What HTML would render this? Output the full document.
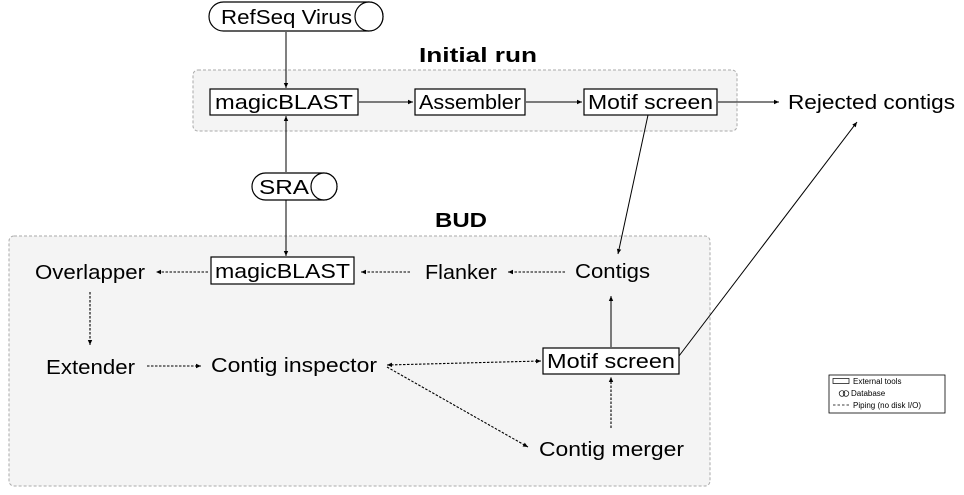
<!DOCTYPE html>
<html><head><meta charset="utf-8"><style>
html,body{margin:0;padding:0;background:#fff;}
svg{display:block;}
text{font-family:"Liberation Sans",sans-serif;fill:#000;}
</style></head><body>
<svg width="964" height="495" viewBox="0 0 964 495" xmlns="http://www.w3.org/2000/svg">
<defs>
<marker id="a" markerWidth="6" markerHeight="6" refX="5" refY="3" orient="auto" markerUnits="userSpaceOnUse"><path d="M0,0.8 L5,3 L0,5.2z" fill="#000"/></marker>
<marker id="s" markerWidth="6" markerHeight="6" refX="1" refY="3" orient="auto" markerUnits="userSpaceOnUse"><path d="M6,0.8 L1,3 L6,5.2z" fill="#000"/></marker>
</defs>
<rect x="193" y="70" width="544" height="61" rx="5" fill="#f4f4f4" stroke="#aaa" stroke-dasharray="3,2"/>
<rect x="9" y="236" width="701" height="250" rx="5" fill="#f4f4f4" stroke="#aaa" stroke-dasharray="3,2"/>
<text x="478" y="62" font-size="20" font-weight="bold" text-anchor="middle" textLength="118" lengthAdjust="spacingAndGlyphs">Initial run</text>
<text x="461" y="227" font-size="20" font-weight="bold" text-anchor="middle" textLength="52" lengthAdjust="spacingAndGlyphs">BUD</text>

<rect x="209" y="2" width="174" height="29" rx="14.5" fill="#fff" stroke="#000" stroke-width="1.2"/>
<ellipse cx="369" cy="16.5" rx="14" ry="14.5" fill="#fff" stroke="#000" stroke-width="1.2"/>
<text x="221" y="24" font-size="20" textLength="131" lengthAdjust="spacingAndGlyphs">RefSeq Virus</text>
<rect x="252" y="173" width="85" height="27" rx="13.5" fill="#fff" stroke="#000" stroke-width="1.2"/>
<ellipse cx="324" cy="186.5" rx="13" ry="13.5" fill="#fff" stroke="#000" stroke-width="1.2"/>
<text x="259" y="194" font-size="20" textLength="50" lengthAdjust="spacingAndGlyphs">SRA</text>

<rect x="210" y="89" width="148" height="26" fill="#fff" stroke="#000" stroke-width="1.2"/>
<text x="215" y="109" font-size="20" textLength="138" lengthAdjust="spacingAndGlyphs">magicBLAST</text>
<rect x="415" y="89" width="110" height="26" fill="#fff" stroke="#000" stroke-width="1.2"/>
<text x="419" y="109" font-size="20" textLength="102" lengthAdjust="spacingAndGlyphs">Assembler</text>
<rect x="584" y="89" width="133" height="26" fill="#fff" stroke="#000" stroke-width="1.2"/>
<text x="588" y="109" font-size="20" textLength="125" lengthAdjust="spacingAndGlyphs">Motif screen</text>
<text x="788" y="109" font-size="20" textLength="167" lengthAdjust="spacingAndGlyphs">Rejected contigs</text>

<g stroke="#000" stroke-width="1" fill="none">
<line x1="286" y1="32" x2="286" y2="88" marker-end="url(#a)"/>
<line x1="286" y1="172" x2="286" y2="116" marker-end="url(#a)"/>
<line x1="359" y1="102" x2="413" y2="102" marker-end="url(#a)"/>
<line x1="526" y1="102" x2="582" y2="102" marker-end="url(#a)"/>
<line x1="718" y1="102" x2="779" y2="102" marker-end="url(#a)"/>
<line x1="648" y1="115" x2="618" y2="254" marker-end="url(#a)"/>
<line x1="286" y1="200" x2="286" y2="256" marker-end="url(#a)"/>
<line x1="679" y1="356" x2="857" y2="122" marker-end="url(#a)"/>
<line x1="611" y1="347" x2="611" y2="296" marker-end="url(#a)"/>
</g>
<g stroke="#000" stroke-width="1.1" fill="none" stroke-dasharray="2.5,1.5">
<line x1="565" y1="272" x2="508" y2="272" marker-end="url(#a)"/>
<line x1="410" y1="272" x2="361" y2="272" marker-end="url(#a)"/>
<line x1="208" y1="272" x2="156" y2="272" marker-end="url(#a)"/>
<line x1="90" y1="292" x2="90" y2="345" marker-end="url(#a)"/>
<line x1="147" y1="366" x2="201" y2="366" marker-end="url(#a)"/>
<line x1="387" y1="365" x2="541" y2="361" marker-end="url(#a)" marker-start="url(#s)"/>
<line x1="387" y1="367" x2="528" y2="447" marker-end="url(#a)"/>
<line x1="611" y1="428" x2="611" y2="377" marker-end="url(#a)"/>
</g>

<rect x="211" y="257" width="143" height="27" fill="#fff" stroke="#000" stroke-width="1.2"/>
<text x="215" y="278" font-size="20" textLength="135" lengthAdjust="spacingAndGlyphs">magicBLAST</text>
<text x="35" y="279" font-size="20" textLength="110" lengthAdjust="spacingAndGlyphs">Overlapper</text>
<text x="425" y="279" font-size="20" textLength="72" lengthAdjust="spacingAndGlyphs">Flanker</text>
<text x="575" y="278" font-size="20" textLength="75" lengthAdjust="spacingAndGlyphs">Contigs</text>
<text x="46" y="374" font-size="20" textLength="89" lengthAdjust="spacingAndGlyphs">Extender</text>
<text x="211" y="372" font-size="20" textLength="166" lengthAdjust="spacingAndGlyphs">Contig inspector</text>
<rect x="543" y="348" width="136" height="26" fill="#fff" stroke="#000" stroke-width="1.2"/>
<text x="547" y="368" font-size="20" textLength="128" lengthAdjust="spacingAndGlyphs">Motif screen</text>
<text x="539" y="456" font-size="20" textLength="145" lengthAdjust="spacingAndGlyphs">Contig merger</text>

<rect x="829" y="375" width="116" height="38" fill="#fff" stroke="#000" stroke-width="0.8"/>
<rect x="833" y="378.5" width="16" height="5" fill="none" stroke="#000" stroke-width="0.7"/>
<text x="853" y="384" font-size="8">External tools</text>
<circle cx="842" cy="393.5" r="2.8" fill="none" stroke="#000" stroke-width="0.7"/>
<circle cx="846" cy="393.5" r="2.8" fill="none" stroke="#000" stroke-width="0.7"/>
<text x="851" y="396" font-size="8">Database</text>
<line x1="833" y1="405" x2="849" y2="405" stroke="#000" stroke-width="0.8" stroke-dasharray="2.5,2"/>
<text x="853" y="408" font-size="8">Piping (no disk I/O)</text>
</svg>
</body></html>
